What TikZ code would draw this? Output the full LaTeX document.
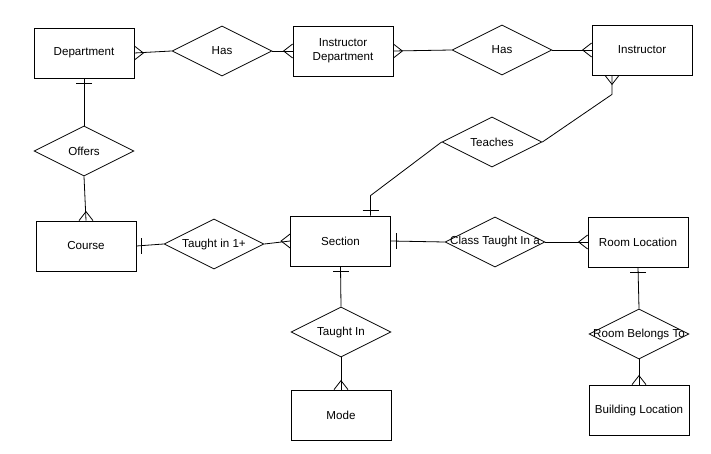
\documentclass[tikz,border=0pt]{standalone}
\usepackage{fontspec}
\setmainfont{Liberation Sans}
\usetikzlibrary{shapes.geometric,calc}
\begin{document}
\begin{tikzpicture}[x=1pt,y=-1pt,
  line width=0.8pt,
  every node/.style={font=\fontsize{11.6}{14}\selectfont},
  ent/.style={draw,rectangle,minimum width=100pt,minimum height=50pt,inner sep=0pt,align=center},
  rel/.style={draw,diamond,minimum width=100pt,minimum height=50pt,inner sep=0pt},
  crowmany/.pic={\draw (0,-7) -- (9,0) -- (0,7);},
  crowone/.pic={\draw (5,-8) -- (5,8);},
]
\useasboundingbox (0,0) rectangle (711,454);

% entities
\node[ent] (dept)    at (84,53)    {Department};
\node[ent] (idept)   at (343,51)   {Instructor\\Department};
\node[ent] (instr)   at (642,50)   {Instructor};
\node[ent] (course)  at (86,246)   {Course};
\node[ent] (section) at (340.5,241) {Section};
\node[ent] (room)    at (638,242)  {Room Location};
\node[ent] (mode)    at (341,415)  {Mode};
\node[ent] (bldg)    at (639,410)  {Building Location};

% relationships
\node[rel,label=center:Has]               (has1)     at (222,51)  {};
\node[rel,label=center:Has]               (has2)     at (502,50)  {};
\node[rel,label=center:Offers]            (offers)   at (84,151)  {};
\node[rel,label=center:Teaches]           (teaches)  at (492,142) {};
\node[rel,label=center:Taught in 1+]      (taught1)  at (214,244) {};
\node[rel,label=center:Class Taught In a] (classin)  at (495,242) {};
\node[rel,label=center:Taught In]         (taughtin) at (341,332) {};
\node[rel,label=center:Room Belongs To]   (belongs)  at (639,334) {};

\coordinate (secT) at ($(section.north)+(30,0)$);
\coordinate (insB) at ($(instr.south)+(-30,0)$);

% connectors
\draw (dept.east) -- (has1.west);
\draw (has1.east) -- (idept.west);
\draw (idept.east) -- (has2.west);
\draw (has2.east) -- (instr.west);
\draw (dept.south) -- (offers.north);
\draw (offers.south) -- (course.north);
\draw (course.east) -- (taught1.west);
\draw (taught1.east) -- (section.west);
\draw (secT) -- ($(secT)+(0,-20)$) -- (teaches.west);
\draw (teaches.east) -- ($(insB)+(0,19)$) -- (insB);
\draw (section.east) -- (classin.west);
\draw (classin.east) -- (room.west);
\draw (section.south) -- (taughtin.north);
\draw (taughtin.south) -- (mode.north);
\draw (room.south) -- (belongs.north);
\draw (belongs.south) -- (bldg.north);

% cardinality marks: many
\pic at (dept.east) {crowmany};
\pic[rotate=180] at (idept.west) {crowmany};
\pic at (idept.east) {crowmany};
\pic[rotate=180] at (instr.west) {crowmany};
\pic[rotate=90] at (course.north) {crowmany};
\pic[rotate=180] at (section.west) {crowmany};
\pic[rotate=-90] at (insB) {crowmany};
\pic[rotate=180] at (room.west) {crowmany};
\pic[rotate=90] at (mode.north) {crowmany};
\pic[rotate=90] at (bldg.north) {crowmany};

% cardinality marks: one
\pic[rotate=-90] at (dept.south) {crowone};
\pic at (course.east) {crowone};
\pic[rotate=90] at (secT) {crowone};
\pic at (section.east) {crowone};
\pic[rotate=-90] at (section.south) {crowone};
\pic[rotate=-90] at (room.south) {crowone};
\end{tikzpicture}
\end{document}
